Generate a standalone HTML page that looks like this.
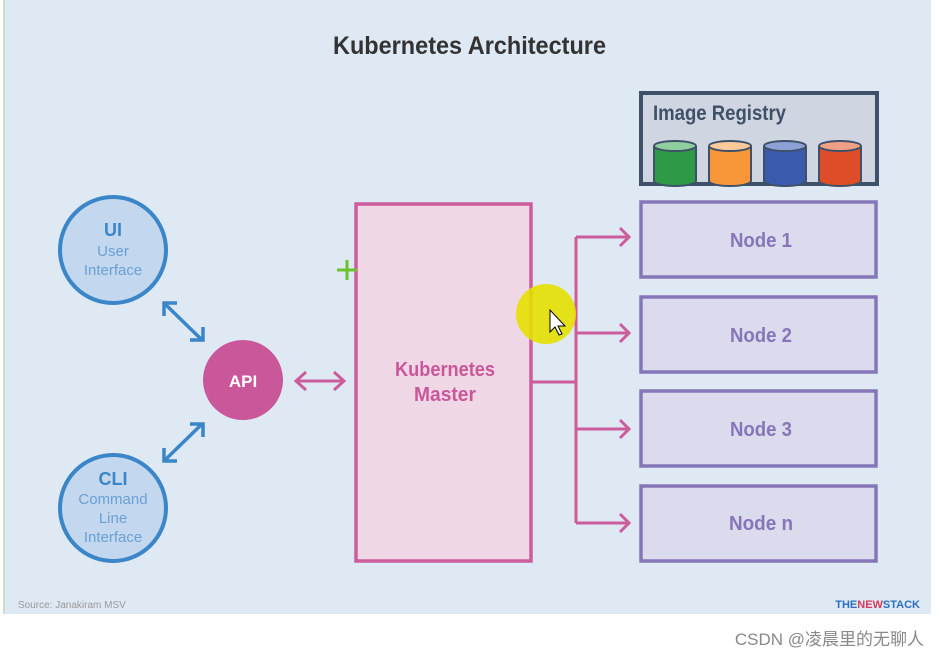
<!DOCTYPE html>
<html><head><meta charset="utf-8"><style>
body{margin:0;width:941px;height:659px;background:#fff;overflow:hidden}
svg{display:block}
text{font-family:"Liberation Sans",sans-serif;font-weight:bold}
</style></head><body>
<svg width="941" height="659" viewBox="0 0 941 659">
<rect x="0" y="0" width="941" height="659" fill="#fff"/>
<rect x="4" y="0" width="927" height="614" fill="#dfe9f3"/>
<rect x="3" y="0" width="2" height="614" fill="#c8e0c8"/>
<text x="333" y="54" font-size="25" fill="#333" textLength="273" lengthAdjust="spacingAndGlyphs">Kubernetes Architecture</text>

<!-- circles -->
<circle cx="113" cy="250" r="53" fill="#c3d7ee" stroke="#3a86c8" stroke-width="4"/>
<text x="113" y="236" text-anchor="middle" font-size="18" fill="#3a86c8">UI</text>
<text x="113" y="256" text-anchor="middle" font-size="15" style="font-weight:normal" fill="#6aa0d6">User</text>
<text x="113" y="275" text-anchor="middle" font-size="15" style="font-weight:normal" fill="#6aa0d6">Interface</text>
<circle cx="113" cy="508" r="53" fill="#c3d7ee" stroke="#3a86c8" stroke-width="4"/>
<text x="113" y="485" text-anchor="middle" font-size="18" fill="#3a86c8">CLI</text>
<text x="113" y="504" text-anchor="middle" font-size="15" style="font-weight:normal" fill="#6aa0d6">Command</text>
<text x="113" y="523" text-anchor="middle" font-size="15" style="font-weight:normal" fill="#6aa0d6">Line</text>
<text x="113" y="542" text-anchor="middle" font-size="15" style="font-weight:normal" fill="#6aa0d6">Interface</text>
<circle cx="243" cy="380" r="40" fill="#c9579a"/>
<text x="243" y="387" text-anchor="middle" font-size="17" fill="#fff">API</text>

<g stroke="#3a86c8" stroke-width="3.5" fill="none">
<line x1="165" y1="304" x2="202" y2="340"/>
<polyline points="164,316 164,303 177,303"/>
<polyline points="190,340 203,340 203,327"/>
<line x1="165" y1="460" x2="202" y2="424"/>
<polyline points="164,448 164,461 177,461"/>
<polyline points="190,424 203,424 203,437"/>
</g>
<g stroke="#cc5c9c" stroke-width="3" fill="none">
<line x1="296" y1="381" x2="344" y2="381"/>
<polyline points="306,372 296,381 306,390"/>
<polyline points="334,372 344,381 334,390"/>
</g>

<!-- master -->
<rect x="356" y="204" width="175" height="357" fill="#efd7e6" stroke="#cc5c9c" stroke-width="3.5"/>
<text x="445" y="376" text-anchor="middle" font-size="20" fill="#c9579a" textLength="100" lengthAdjust="spacingAndGlyphs">Kubernetes</text>
<text x="445" y="401" text-anchor="middle" font-size="20" fill="#c9579a" textLength="62" lengthAdjust="spacingAndGlyphs">Master</text>

<g stroke="#cc5c9c" stroke-width="3" fill="none">
<line x1="531" y1="382" x2="576" y2="382"/>
<line x1="576" y1="237" x2="576" y2="523"/>
<line x1="576" y1="237" x2="629" y2="237"/><polyline points="620,228 629,237 620,246"/>
<line x1="576" y1="333" x2="629" y2="333"/><polyline points="620,324 629,333 620,342"/>
<line x1="576" y1="429" x2="629" y2="429"/><polyline points="620,420 629,429 620,438"/>
<line x1="576" y1="523" x2="629" y2="523"/><polyline points="620,514 629,523 620,532"/>
</g>

<!-- registry -->
<rect x="641" y="93" width="236" height="91" fill="#cfd6e1" stroke="#3f5069" stroke-width="4"/>
<text x="653" y="120" font-size="21" fill="#3f5069" textLength="133" lengthAdjust="spacingAndGlyphs">Image Registry</text>
<g stroke="#3f5069" stroke-width="2">
<path d="M654 146 v35 a21 5 0 0 0 42 0 v-35" fill="#2e9a46"/><ellipse cx="675" cy="146" rx="21" ry="5" fill="#8fcf9f"/>
<path d="M709 146 v35 a21 5 0 0 0 42 0 v-35" fill="#f7973a"/><ellipse cx="730" cy="146" rx="21" ry="5" fill="#fbc99a"/>
<path d="M764 146 v35 a21 5 0 0 0 42 0 v-35" fill="#3a5aad"/><ellipse cx="785" cy="146" rx="21" ry="5" fill="#8ea1d6"/>
<path d="M819 146 v35 a21 5 0 0 0 42 0 v-35" fill="#dd4d27"/><ellipse cx="840" cy="146" rx="21" ry="5" fill="#ef9f84"/>
</g>

<!-- nodes -->
<g fill="#dcdaed" stroke="#8576b8" stroke-width="3.5">
<rect x="641" y="202" width="235" height="75"/>
<rect x="641" y="297" width="235" height="75"/>
<rect x="641" y="391" width="235" height="75"/>
<rect x="641" y="486" width="235" height="75"/>
</g>
<g font-size="20" fill="#8576b8" text-anchor="middle">
<text x="761" y="247" textLength="62" lengthAdjust="spacingAndGlyphs">Node 1</text>
<text x="761" y="342" textLength="62" lengthAdjust="spacingAndGlyphs">Node 2</text>
<text x="761" y="436" textLength="62" lengthAdjust="spacingAndGlyphs">Node 3</text>
<text x="761" y="530" textLength="64" lengthAdjust="spacingAndGlyphs">Node n</text>
</g>

<!-- cursor highlight -->
<circle cx="546" cy="314" r="30" fill="#e6e000" opacity="0.9"/>
<path d="M550 310 l0 22 l5 -5 l4 8 l3 -1 l-4 -8 l7 0 z" fill="#fff" stroke="#000" stroke-width="1"/>
<g stroke="#6ac22c" stroke-width="3"><line x1="337" y1="270" x2="357" y2="270"/><line x1="347" y1="260" x2="347" y2="280"/></g>

<text x="18" y="608" font-size="10" style="font-weight:normal" fill="#999">Source: Janakiram MSV</text>
<text x="920" y="608" text-anchor="end" font-size="11" fill="#2a6fc0">THE<tspan fill="#d63a5a">NEW</tspan>STACK</text>
<text x="924" y="645" text-anchor="end" font-size="17" style="font-weight:normal;font-family:'Liberation Sans','Noto Sans CJK SC',sans-serif" fill="#888">CSDN @凌晨里的无聊人</text>
</svg>
</body></html>
